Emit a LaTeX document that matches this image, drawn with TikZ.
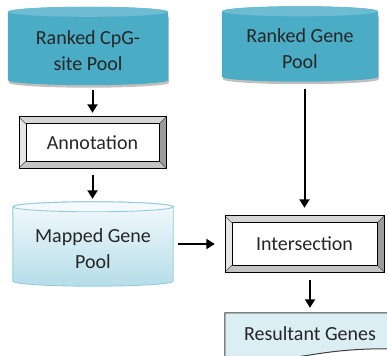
\documentclass[tikz,border=0pt]{standalone}
\usepackage{fontspec}
\setmainfont{Carlito}
\usetikzlibrary{arrows.meta,calc}
\pgfdeclarelayer{background}
\pgfsetlayers{background,main}

\definecolor{poolblue}{HTML}{4BACC6}
\definecolor{pooltop}{HTML}{6DBCD2}
\definecolor{mapline}{HTML}{92CCDC}
\definecolor{mapdark}{HTML}{B5DDE8}
\definecolor{maplight}{HTML}{F4FAFC}
\definecolor{resfill}{HTML}{DBEEF4}
\definecolor{bevtop}{HTML}{D6D6D6}
\definecolor{bevleft}{HTML}{E6E6E6}
\definecolor{bevbottom}{HTML}{C4C4C4}
\definecolor{bevright}{HTML}{9C9C9C}
\definecolor{inktext}{HTML}{262626}

\tikzset{
  label text/.style={font=\fontsize{20}{26}\selectfont, text=inktext, align=center, inner sep=0pt},
  poolnode/.style={label text, minimum width=#1},
  boxnode/.style={label text, minimum width=#1},
  flowarrow/.style={line width=2pt, -{Triangle[width=10pt,length=8.5pt]}},
  boxline/.style={draw=black, line width=0.6pt},
  bevline/.style={draw=black!70, line width=0.4pt},
  docshape/.style={fill=resfill, draw=black!75, line width=1pt},
}

% cylinder drawn round a node that covers the body under the top ellipse
% #1 node, #2 ellipse half height, #3 body style, #4 top style
\newcommand\poolshape[4]{%
  \begin{pgfonlayer}{background}
    \path[#3] let \p1=(#1.north west), \p2=(#1.south east), \n1={(\x2-\x1)/2} in
      (\x1,\y1+#2pt) -- (\x1,\y2+#2pt)
      arc[start angle=180, end angle=360, x radius=\n1, y radius=#2pt]
      -- (\x2,\y1+#2pt)
      arc[start angle=0, end angle=180, x radius=\n1, y radius=#2pt] -- cycle;
    \path[#4] let \p1=(#1.north west), \p2=(#1.south east), \n1={(\x2-\x1)/2} in
      ({(\x1+\x2)/2},\y1+#2pt) ellipse[x radius=\n1, y radius=#2pt];
  \end{pgfonlayer}}

% soft shadow under a cylinder
\newcommand\poolshadow[2]{%
  \begin{pgfonlayer}{background}
    \path[fill=black!45, opacity=0.55] let \p1=(#1.north west), \p2=(#1.south east), \n1={(\x2-\x1)/2} in
      (\x1+1pt,\y1) -- (\x1+1pt,\y2+#2pt-2.5pt)
      arc[start angle=180, end angle=360, x radius=\n1, y radius=#2pt]
      -- (\x2+1pt,\y1) -- cycle;
  \end{pgfonlayer}}

% bevelled process box round a node
\newcommand\bevdepth{7pt}
\newcommand\bevelbox[1]{%
  \begin{pgfonlayer}{background}
    \coordinate (#1-nw) at (#1.north west);
    \coordinate (#1-ne) at (#1.north east);
    \coordinate (#1-se) at (#1.south east);
    \coordinate (#1-sw) at (#1.south west);
    \coordinate (#1-inw) at ($(#1.north west)+(\bevdepth,-\bevdepth)$);
    \coordinate (#1-ine) at ($(#1.north east)+(-\bevdepth,-\bevdepth)$);
    \coordinate (#1-ise) at ($(#1.south east)+(-\bevdepth,\bevdepth)$);
    \coordinate (#1-isw) at ($(#1.south west)+(\bevdepth,\bevdepth)$);
    \fill[bevtop] (#1-nw) -- (#1-ne) -- (#1-ine) -- (#1-inw) -- cycle;
    \fill[bevright] (#1-ne) -- (#1-se) -- (#1-ise) -- (#1-ine) -- cycle;
    \fill[bevbottom] (#1-se) -- (#1-sw) -- (#1-isw) -- (#1-ise) -- cycle;
    \fill[bevleft] (#1-sw) -- (#1-nw) -- (#1-inw) -- (#1-isw) -- cycle;
    \path[bevline] (#1-nw) -- (#1-inw) (#1-ne) -- (#1-ine)
                   (#1-se) -- (#1-ise) (#1-sw) -- (#1-isw);
    \path[boxline] (#1-nw) rectangle (#1-se);
    \path[boxline, fill=white] (#1-inw) rectangle (#1-ise);
  \end{pgfonlayer}}

\begin{document}
\begin{tikzpicture}[x=1pt, y=1pt]
  \useasboundingbox (0,0) rectangle (387,355);

  % nodes
  \node[poolnode=160, minimum height=68] (cpg)  at (88,304)    {Ranked CpG-\\site Pool};
  \node[poolnode=156, minimum height=65] (gene) at (300,306)   {Ranked Gene\\Pool};
  \node[boxnode=147, minimum height=51]  (annot) at (92.5,212.5) {Annotation};
  \node[poolnode=160, minimum height=74] (mapped) at (93,106)  {Mapped Gene\\Pool};
  \node[boxnode=159, minimum height=56]  (inter) at (304.5,111) {Intersection};
  \node[label text, minimum width=170, minimum height=42] (res) at (310,21) {Resultant Genes};

  % shapes behind the nodes
  \poolshadow{cpg}{5}
  \poolshape{cpg}{5}{fill=poolblue}{fill=pooltop}
  \poolshadow{gene}{5}
  \poolshape{gene}{5}{fill=poolblue}{fill=pooltop}
  \poolshape{mapped}{5}{top color=maplight, bottom color=mapdark, draw=mapline, line width=0.9pt}{fill=maplight, draw=mapline, line width=0.9pt}
  \bevelbox{annot}
  \bevelbox{inter}
  \begin{pgfonlayer}{background}
    \begin{scope}
      \clip (0,0) rectangle (387,355);
      \path[docshape] (res.north west) -- (res.north east)
        -- ($(res.north east)+(0,-36)$)
        .. controls ($(res.north)+(-5,-35)$) and ($(res.north)+(-5,-52)$) ..
        ($(res.north west)+(0,-45)$) -- cycle;
    \end{scope}
  \end{pgfonlayer}

  % connectors
  \draw[flowarrow, shorten <=5pt, shorten >=4pt] (cpg.south -| annot.north) -- (annot.north);
  \draw[flowarrow, shorten <=7pt, shorten >=13pt] (annot.south) -- (mapped.north -| annot.south);
  \draw[flowarrow, shorten <=5pt, shorten >=10pt] (mapped.east |- inter.west) -- (inter.west);
  \draw[flowarrow, shorten <=7pt, shorten >=8pt] (gene.south -| inter.north) -- (inter.north);
  \draw[flowarrow, shorten <=8pt, shorten >=5pt] (inter.south -| res.north) -- (res.north);
\end{tikzpicture}
\end{document}
